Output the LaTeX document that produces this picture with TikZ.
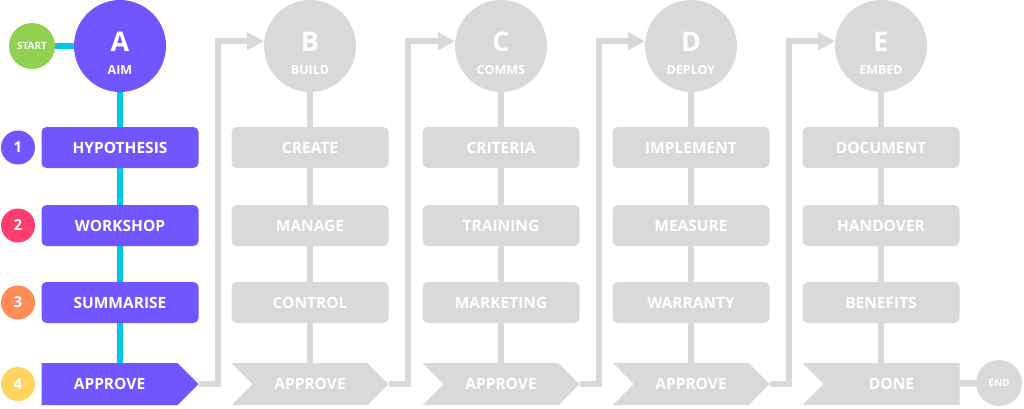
\documentclass[tikz,border=0pt]{standalone}
\usepackage{fontspec}
\setmainfont{Open Sans}
\usepackage{tikz}
\usetikzlibrary{arrows.meta, positioning, calc, backgrounds, shapes.symbols}
\definecolor{aimpurple}{HTML}{7056FF}
\definecolor{linkcyan}{HTML}{00C8E8}
\definecolor{startgreen}{HTML}{92D050}
\definecolor{stepred}{HTML}{FF3D6E}
\definecolor{steporange}{HTML}{FF8C55}
\definecolor{stepyellow}{HTML}{FFD45E}
\definecolor{idlegray}{HTML}{D9D9D9}

\begin{document}
\begin{tikzpicture}[
            x=1pt, y=-1pt,
            font=\bfseries,
            % phases are circles, steps are boxes, gates are chevrons
            phase/.style  ={circle, minimum size=92pt, inner sep=0pt},
            letter/.style ={text=white, inner sep=0pt, font=\fontsize{27}{27}\selectfont\bfseries},
            phname/.style ={text=white, inner sep=0pt, font=\fontsize{12.5}{12.5}\selectfont\bfseries},
            endc/.style   ={circle, minimum size=46pt, inner sep=0pt, text=white, font=\fontsize{10}{10}\selectfont\bfseries},
            numc/.style   ={circle, minimum size=34pt, inner sep=0pt, text=white, font=\fontsize{15}{15}\selectfont\bfseries},
            stepbox/.style={rectangle, rounded corners=5pt, minimum width=157pt, minimum height=41pt,
                            inner sep=0pt, text=white, font=\fontsize{15.5}{15.5}\selectfont\bfseries},
            gate/.style   ={signal, signal to=east, signal from=west, signal pointer angle=90,
                            minimum width=157pt, minimum height=42pt, inner sep=0pt,
                            text=white, font=\fontsize{15.5}{15.5}\selectfont\bfseries},
            cyanlink/.style={draw=linkcyan, line width=6pt},
            graylink/.style={draw=idlegray, line width=6.5pt},
            flow/.style   ={draw=idlegray, line width=6.5pt, -{Triangle[width=17pt,length=17pt]}}
        ]
        \useasboundingbox (0,0) rectangle (1024,408);

        %% ===== Column A: AIM (active) =====
        \node[endc, fill=startgreen] (start) at (32,46) {START};
        \node[phase, fill=aimpurple] (A) at (120,46) {};
        \node[letter] (Aletter) at (120,42) {A};
        \node[phname] (Aname) at (120,70.5) {AIM};
        \node[stepbox, fill=aimpurple] (A1) at (120,147.5) {HYPOTHESIS};
        \node[stepbox, fill=aimpurple] (A2) at (120,225.5) {WORKSHOP};
        \node[stepbox, fill=aimpurple] (A3) at (120,302.5) {SUMMARISE};
        % one-sided chevron: its centre sits on the body, so shift it left
        \node[gate, fill=aimpurple, signal from=nowhere] (A4) at (109.5,384) {APPROVE};

        \node[numc, fill=aimpurple]  (n1) at (18,147.5) {1};
        \node[numc, fill=stepred]    (n2) at (18,225.5) {2};
        \node[numc, fill=steporange] (n3) at (18,302.5) {3};
        \node[numc, fill=stepyellow] (n4) at (18,384) {4};

        %% ===== Column B: BUILD =====
        \node[phase, fill=idlegray] (B) at (310,46) {};
        \node[letter] (Bletter) at (310,42) {B};
        \node[phname] (Bname) at (310,70.5) {BUILD};
        \node[stepbox, fill=idlegray] (B1) at (310,147.5) {CREATE};
        \node[stepbox, fill=idlegray] (B2) at (310,225.5) {MANAGE};
        \node[stepbox, fill=idlegray] (B3) at (310,302.5) {CONTROL};
        \node[gate, fill=idlegray] (B4) at (310,384) {APPROVE};

        %% ===== Column C: COMMS =====
        \node[phase, fill=idlegray] (C) at (501,46) {};
        \node[letter] (Cletter) at (501,42) {C};
        \node[phname] (Cname) at (501,70.5) {COMMS};
        \node[stepbox, fill=idlegray] (C1) at (501,147.5) {CRITERIA};
        \node[stepbox, fill=idlegray] (C2) at (501,225.5) {TRAINING};
        \node[stepbox, fill=idlegray] (C3) at (501,302.5) {MARKETING};
        \node[gate, fill=idlegray] (C4) at (501,384) {APPROVE};

        %% ===== Column D: DEPLOY =====
        \node[phase, fill=idlegray] (D) at (691,46) {};
        \node[letter] (Dletter) at (691,42) {D};
        \node[phname] (Dname) at (691,70.5) {DEPLOY};
        \node[stepbox, fill=idlegray] (D1) at (691,147.5) {IMPLEMENT};
        \node[stepbox, fill=idlegray] (D2) at (691,225.5) {MEASURE};
        \node[stepbox, fill=idlegray] (D3) at (691,302.5) {WARRANTY};
        \node[gate, fill=idlegray] (D4) at (691,384) {APPROVE};

        %% ===== Column E: EMBED =====
        \node[phase, fill=idlegray] (E) at (881,46) {};
        \node[letter] (Eletter) at (881,42) {E};
        \node[phname] (Ename) at (881,70.5) {EMBED};
        \node[stepbox, fill=idlegray] (E1) at (881,147.5) {DOCUMENT};
        \node[stepbox, fill=idlegray] (E2) at (881,225.5) {HANDOVER};
        \node[stepbox, fill=idlegray] (E3) at (881,302.5) {BENEFITS};
        \node[gate, fill=idlegray, signal to=nowhere] (E4) at (891.5,384) {DONE};
        \node[endc, fill=idlegray] (end) at (999,383) {END};

        %% ===== Connectors (behind the shapes) =====
        \begin{scope}[on background layer]
            \draw[cyanlink] (start) -- (A);
            \draw[cyanlink] (A) -- (A |- A4.north);
            \draw[graylink] (B) -- (B4);
            \draw[graylink] (C) -- (C4);
            \draw[graylink] (D) -- (D4);
            \draw[graylink] (E) -- (E |- E4.north);
            \draw[graylink] (E4) -- (end);
            % gate of one phase leads up to the next phase
            \draw[flow] (A4.east) -- ++(19,0) |- (B.174);
            \draw[flow] (B4.east) -- ++(19,0) |- (C.174);
            \draw[flow] (C4.east) -- ++(19,0) |- (D.174);
            \draw[flow] (D4.east) -- ++(19,0) |- (E.174);
        \end{scope}

    \end{tikzpicture}
\end{document}
